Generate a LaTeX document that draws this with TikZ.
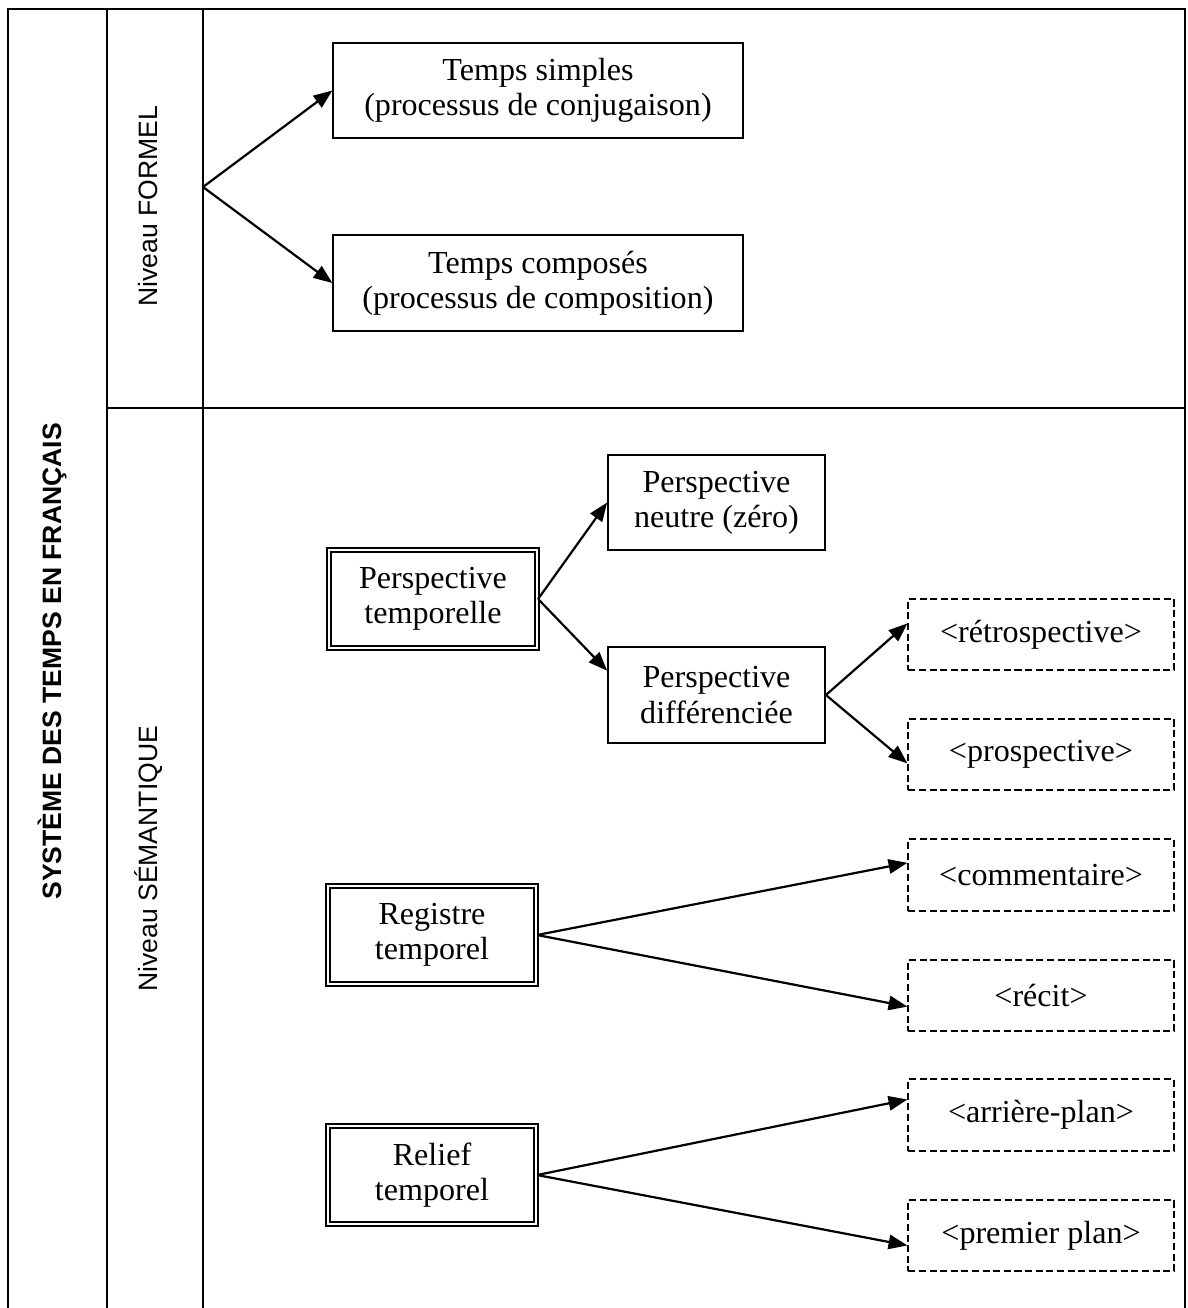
\documentclass[tikz,border=0pt]{standalone}
\usepackage{fontspec}
\setmainfont{Liberation Serif}
\setsansfont{Liberation Sans}
\usetikzlibrary{arrows.meta}
\begin{document}
\begin{tikzpicture}[x=0.452pt,y=-0.452pt,
  txt/.style={align=center,inner sep=0pt,font=\fontsize{14.5pt}{16pt}\selectfont},
  simple/.style={txt,draw,line width=0.9pt,minimum width=185pt,minimum height=43pt},
  small/.style={simple,minimum width=98pt},
  dbox/.style={txt,draw,double,line width=1pt,double distance=0.8pt,minimum width=94pt,minimum height=44pt},
  dashbox/.style={txt,draw,dash pattern=on 3.2pt off 1.6pt,line width=0.8pt,minimum width=120pt,minimum height=32.3pt},
  level/.style={rotate=90,anchor=base west,inner sep=0pt,font=\sffamily\fontsize{12pt}{14pt}\selectfont},
  arr/.style={-{Triangle[length=8.5pt,width=6.5pt]},line width=1pt}]
\useasboundingbox(0,0)rectangle(1188,1308);
% table
\draw[line width=0.8pt](8,1308)--(8,9)--(1185,9)--(1185,1308) (107,9)--(107,1308) (203,9)--(203,1308) (107,408)--(1185,408);
% rotated labels
\node[level,font=\sffamily\bfseries\fontsize{12pt}{14pt}\selectfont](systeme) at (61,900){SYSTÈME DES TEMPS EN FRANÇAIS};
\node[level](formel) at (157,307){Niveau FORMEL};
\node[level](semantique) at (157,992){Niveau SÉMANTIQUE};
% niveau formel
\coordinate(fork) at (203,187);
\node[simple](simples) at (538,90.5){Temps simples\\(processus de conjugaison)};
\node[simple](composes) at (538,283){Temps composés\\(processus de composition)};
\draw[arr](fork)--(simples.west);
\draw[arr](fork)--(composes.west);
% niveau semantique
\node[dbox](perspective) at (433,599){Perspective\\temporelle};
\node[small](neutre) at (716.5,502.5){Perspective\\neutre (zéro)};
\node[small](differenciee) at (716.5,695){Perspective\\différenciée};
\node[dashbox](retro) at (1041,634.5){<rétrospective>};
\node[dashbox](prosp) at (1041,754.5){<prospective>};
\draw[arr](perspective.east)--(neutre.west);
\draw[arr](perspective.east)--([yshift=11pt]differenciee.west);
\draw[arr](differenciee.east)--([yshift=5pt]retro.west);
\draw[arr](differenciee.east)--([yshift=-4pt]prosp.west);
\node[dbox](registre) at (432,935){Registre\\temporel};
\node[dashbox](commentaire) at (1041,875){<commentaire>};
\node[dashbox](recit) at (1041,995.5){<récit>};
\draw[arr](registre.east)--([yshift=5.5pt]commentaire.west);
\draw[arr](registre.east)--([yshift=-5pt]recit.west);
\node[dbox](relief) at (432,1175){Relief\\temporel};
\node[dashbox](arriere) at (1041,1115){<arrière-plan>};
\node[dashbox](premier) at (1041,1235.5){<premier plan>};
\draw[arr](relief.east)--([yshift=7pt]arriere.west);
\draw[arr](relief.east)--([yshift=-4.5pt]premier.west);
\end{tikzpicture}
\end{document}
